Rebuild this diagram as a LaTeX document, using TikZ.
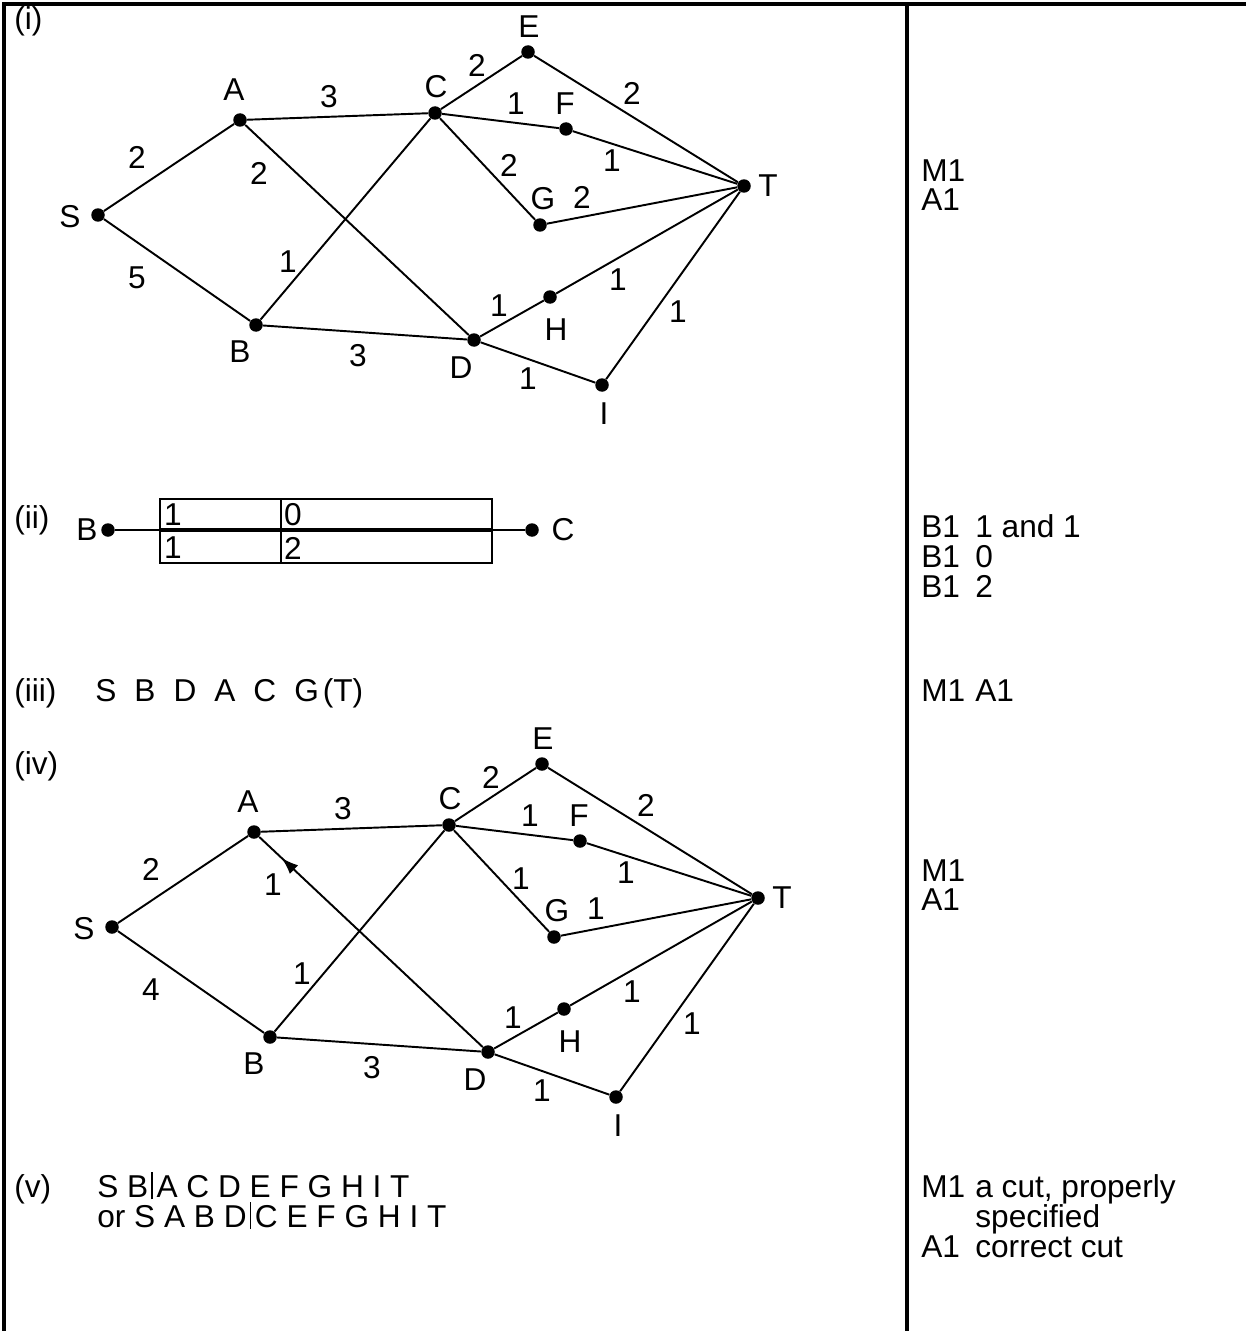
\documentclass[tikz,border=0pt]{standalone}
\usepackage{fontspec}
\setmainfont{Liberation Sans}
\usetikzlibrary{arrows.meta, decorations.markings}
\newcommand{\gap}{\hspace{0.36cm}}
\newcommand{\cutbar}{\hspace{0.06cm}\vrule width 0.7pt height 0.5cm depth 0.04cm\hspace{0.08cm}}
\newcommand{\tabmark}[1]{\makebox[1.08cm][l]{#1}}

\begin{document}
\begin{tikzpicture}[
  x=0.02cm, y=-0.02cm,
  every node/.style={inner sep=0pt, font=\fontsize{18}{17}\selectfont},
  vtx/.style={circle, fill=black, minimum size=0.27cm},
  txt/.style={anchor=base west},
  block/.style={anchor=north west, align=left},
  edge/.style={line width=1.1pt},
  frame/.style={line width=1.8pt},
  backarr/.style={postaction={decorate}, decoration={markings,
      mark=at position 0.9 with {\arrow{Latex[length=3.4mm, width=2.4mm]}}}}
]
\useasboundingbox (0,0) rectangle (1246,1331);

% frame of the mark scheme
\draw[frame] (4,1331) -- (4,4) -- (1246,4);
\draw[frame] (907,4) -- (907,1331);

% part (i)
\node[txt] (pi) at (14,30) {(i)};
\node[vtx] (S1) at (98,215) {};
\node[vtx] (A1) at (240,120) {};
\node[vtx] (B1) at (256,325) {};
\node[vtx] (C1) at (435,113) {};
\node[vtx] (D1) at (474,340) {};
\node[vtx] (E1) at (528,52) {};
\node[vtx] (F1) at (566,129) {};
\node[vtx] (G1) at (540,225) {};
\node[vtx] (H1) at (550,297) {};
\node[vtx] (I1) at (602,385) {};
\node[vtx] (T1) at (744,186) {};
\node (S1l) at (70,217) {S};
\node (A1l) at (234,90) {A};
\node (B1l) at (240,352) {B};
\node (C1l) at (436,87) {C};
\node (D1l) at (461,368) {D};
\node (E1l) at (529,27) {E};
\node (F1l) at (565,104) {F};
\node (G1l) at (543,199) {G};
\node (H1l) at (556,330) {H};
\node (I1l) at (604,414) {I};
\node (T1l) at (768,186) {T};
\draw[edge] (S1) -- (A1);
\draw[edge] (S1) -- (B1);
\draw[edge] (A1) -- (C1);
\draw[edge] (A1) -- (D1);
\draw[edge] (B1) -- (C1);
\draw[edge] (B1) -- (D1);
\draw[edge] (C1) -- (E1);
\draw[edge] (C1) -- (F1);
\draw[edge] (C1) -- (G1);
\draw[edge] (E1) -- (T1);
\draw[edge] (F1) -- (T1);
\draw[edge] (G1) -- (T1);
\draw[edge] (D1) -- (H1);
\draw[edge] (H1) -- (T1);
\draw[edge] (D1) -- (I1);
\draw[edge] (I1) -- (T1);
\node (w1SA) at (137,157) {2};
\node (w1SB) at (137,278) {5};
\node (w1AC) at (329,97) {3};
\node (w1AD) at (259,173) {2};
\node (w1BC) at (288,262) {1};
\node (w1BD) at (358,356) {3};
\node (w1CE) at (477,65) {2};
\node (w1CF) at (516,104) {1};
\node (w1CG) at (509,165) {2};
\node (w1ET) at (632,93) {2};
\node (w1FT) at (612,161) {1};
\node (w1GT) at (582,197) {2};
\node (w1DH) at (499,306) {1};
\node (w1HT) at (618,280) {1};
\node (w1IT) at (678,312) {1};
\node (w1DI) at (528,379) {1};
\node[block] (mk1) at (921,159) {M1\\A1};

% part (ii)
\node[txt] (pii) at (14,528) {(ii)};
\node[vtx] (B2) at (108,530) {};
\node[vtx] (C2) at (532,530) {};
\node (B2l) at (87,530) {B};
\node (C2l) at (563,530) {C};
\draw[edge] (B2) -- (C2);
\draw[line width=0.9pt] (160,499) rectangle (492,563);
\draw[line width=0.9pt] (281,499) -- (281,563);
\draw[line width=2pt] (160,530) -- (492,530);
\node (c11) at (173,515) {1};
\node (c12) at (293,515) {0};
\node (c21) at (173,548) {1};
\node (c22) at (293,548) {2};
\node[block] (mk2) at (921,514) {\tabmark{B1}1 and 1\\\tabmark{B1}0\\\tabmark{B1}2};

% part (iii)
\node[txt] (piii) at (14,701) {(iii)};
\node[txt] (route) at (95,701) {S\gap B\gap D\gap A\gap C\gap G\hspace{0.08cm}(T)};
\node[txt] (mk3) at (921,701) {\tabmark{M1}A1};

% part (iv)
\node[txt] (piv) at (14,774) {(iv)};
\begin{scope}[shift={(14,712)}]
\node[vtx] (S4) at (98,215) {};
\node[vtx] (A4) at (240,120) {};
\node[vtx] (B4) at (256,325) {};
\node[vtx] (C4) at (435,113) {};
\node[vtx] (D4) at (474,340) {};
\node[vtx] (E4) at (528,52) {};
\node[vtx] (F4) at (566,129) {};
\node[vtx] (G4) at (540,225) {};
\node[vtx] (H4) at (550,297) {};
\node[vtx] (I4) at (602,385) {};
\node[vtx] (T4) at (744,186) {};
\node (S4l) at (70,217) {S};
\node (A4l) at (234,90) {A};
\node (B4l) at (240,352) {B};
\node (C4l) at (436,87) {C};
\node (D4l) at (461,368) {D};
\node (E4l) at (529,27) {E};
\node (F4l) at (565,104) {F};
\node (G4l) at (543,199) {G};
\node (H4l) at (556,330) {H};
\node (I4l) at (604,414) {I};
\node (T4l) at (768,186) {T};
\draw[edge] (S4) -- (A4);
\draw[edge] (S4) -- (B4);
\draw[edge] (A4) -- (C4);
\draw[edge, backarr] (D4) -- (A4);
\draw[edge] (B4) -- (C4);
\draw[edge] (B4) -- (D4);
\draw[edge] (C4) -- (E4);
\draw[edge] (C4) -- (F4);
\draw[edge] (C4) -- (G4);
\draw[edge] (E4) -- (T4);
\draw[edge] (F4) -- (T4);
\draw[edge] (G4) -- (T4);
\draw[edge] (D4) -- (H4);
\draw[edge] (H4) -- (T4);
\draw[edge] (D4) -- (I4);
\draw[edge] (I4) -- (T4);
\node (w4SA) at (137,157) {2};
\node (w4SB) at (137,278) {4};
\node (w4AC) at (329,97) {3};
\node (w4AD) at (259,173) {1};
\node (w4BC) at (288,262) {1};
\node (w4BD) at (358,356) {3};
\node (w4CE) at (477,65) {2};
\node (w4CF) at (516,104) {1};
\node (w4CG) at (507,167) {1};
\node (w4ET) at (632,93) {2};
\node (w4FT) at (612,161) {1};
\node (w4GT) at (582,197) {1};
\node (w4DH) at (499,306) {1};
\node (w4HT) at (618,280) {1};
\node (w4IT) at (678,312) {1};
\node (w4DI) at (528,379) {1};
\end{scope}
\node[block] (mk4) at (921,859) {M1\\A1};

% part (v)
\node[txt] (pv) at (14,1197) {(v)};
\node[block] (cuts) at (97,1172) {S B\cutbar A C D E F G H I T\\or S A B D\cutbar C E F G H I T};
\node[block] (mk5) at (921,1174) {\tabmark{M1}a cut, properly\\\tabmark{}specified\\\tabmark{A1}correct cut};
\end{tikzpicture}
\end{document}
